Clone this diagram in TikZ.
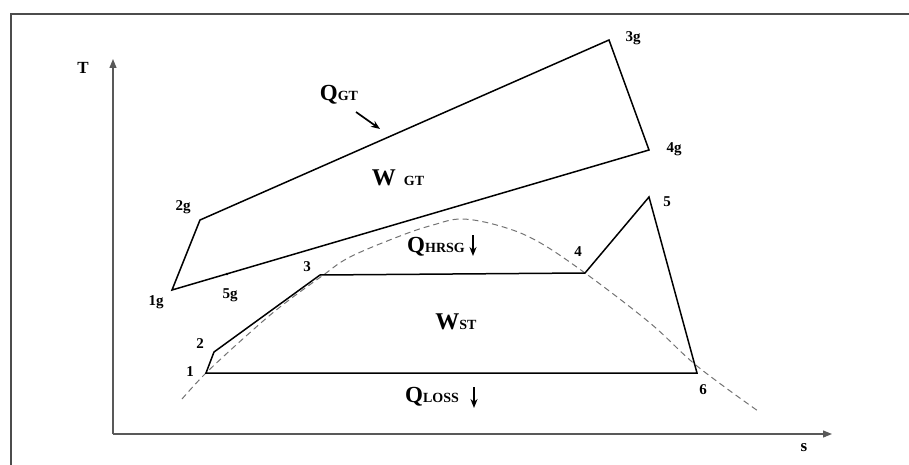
\documentclass[tikz,border=0pt]{standalone}
\usepackage{fontspec}
\setmainfont{Liberation Serif}
\usetikzlibrary{arrows.meta}
\begin{document}
\begin{tikzpicture}[x=1pt,y=-1pt,
  cyc/.style={line width=1.5pt, line join=miter},
  axis/.style={line width=1.2pt, draw=black!65, -{Triangle[length=9pt,width=7pt]}},
  lbl/.style={font=\fontsize{15}{15}\selectfont\bfseries, inner sep=0pt},
  big/.style={font=\bfseries, inner sep=0pt},
  dome/.style={dash pattern=on 6pt off 4pt, draw=black!55, line width=1pt},
  harrow/.style={line width=1.7pt, -{Stealth[length=9pt,width=7pt]}}]
\useasboundingbox (0,0) rectangle (909,465);
% frame
\draw[draw=black!70, line width=1.3pt] (909,14) -- (11,14) -- (11,465);
% axes
\coordinate (O) at (113,434);
\coordinate (Ty) at (113,59);
\coordinate (Sx) at (832,434);
\draw[axis] (O) -- (Ty);
\draw[axis] (O) -- (Sx);
\node[lbl, font=\fontsize{17}{17}\selectfont\bfseries] (T) at (83,68) {T};
\node[lbl, font=\fontsize{17}{17}\selectfont\bfseries] (s) at (804,448) {s};
% saturation dome
\draw[dome] plot[smooth, tension=0.6] coordinates {(182,399) (206,373) (245,337) (280,307) (322,276) (350,257) (400,236) (433,225) (462,219) (500,226) (537,241) (585,273) (650,323) (697,366) (758,411)};
% gas turbine cycle
\coordinate (g1) at (172,290);
\coordinate (g2) at (200,220);
\coordinate (g3) at (609,40);
\coordinate (g4) at (649,150);
\coordinate (g5) at (227,274);
\draw[cyc] (g1) -- (g2) -- (g3) -- (g4) -- cycle;
\fill (g5) circle (1.3pt);
% steam cycle
\coordinate (p1) at (206,373);
\coordinate (p2) at (214,352);
\coordinate (p3) at (320,275);
\coordinate (p4) at (585,273);
\coordinate (p5) at (649,197);
\coordinate (p6) at (697,373);
\draw[cyc] (p1) -- (p2) -- (p3) -- (p4) -- (p5) -- (p6) -- cycle;
% point labels
\node[lbl] (l1g) at (156,302) {1g};
\node[lbl] (l2g) at (183,207) {2g};
\node[lbl] (l3g) at (633,38) {3g};
\node[lbl] (l4g) at (674,149) {4g};
\node[lbl] (l5g) at (230,295) {5g};
\node[lbl] (l1) at (190,372) {1};
\node[lbl] (l2) at (200,344) {2};
\node[lbl] (l3) at (307,267) {3};
\node[lbl] (l4) at (578,252) {4};
\node[lbl] (l5) at (667,202) {5};
\node[lbl] (l6) at (703,390) {6};
% heat and work labels
\node[big] (qgt) at (339,95) {{\fontsize{23}{23}\selectfont Q}{\fontsize{14}{14}\selectfont GT}};
\coordinate (qa) at (356,112);
\coordinate (qb) at (380,129);
\draw[harrow] (qa) -- (qb);
\node[big] (wgt) at (398,178) {{\fontsize{24}{24}\selectfont W}\hspace{8pt}{\fontsize{14}{14}\selectfont GT}};
\node[big] (qhrsg) at (436,247) {{\fontsize{23}{23}\selectfont Q}{\fontsize{14}{14}\selectfont HRSG}};
\coordinate (ha) at (473,235);
\coordinate (hb) at (473,256);
\draw[harrow] (ha) -- (hb);
\node[big] (wst) at (456,322) {{\fontsize{24}{24}\selectfont W}{\fontsize{14}{14}\selectfont ST}};
\node[big] (qloss) at (432,397) {{\fontsize{23}{23}\selectfont Q}{\fontsize{14}{14}\selectfont LOSS}};
\coordinate (la) at (474,387);
\coordinate (lb) at (474,408);
\draw[harrow] (la) -- (lb);
\end{tikzpicture}
\end{document}
